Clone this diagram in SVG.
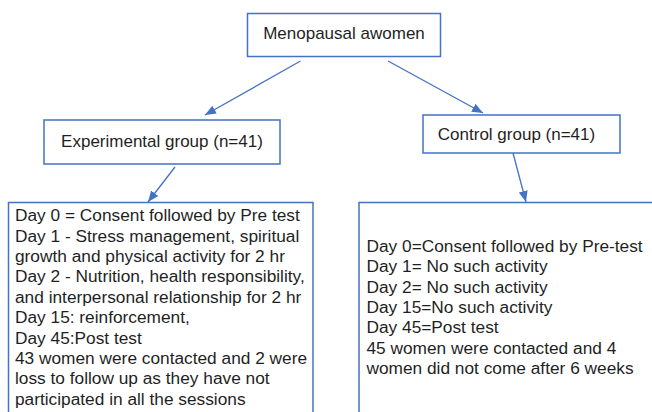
<svg xmlns="http://www.w3.org/2000/svg" width="652" height="412" viewBox="0 0 652 412">
<style>
.box{fill:#fff;stroke:#4472C4;stroke-width:1.5}
.t{font-family:"Liberation Sans",Arial,sans-serif;font-size:17px;fill:#1f1f1f}
.c{text-anchor:middle}
.ln{stroke:#4472C4;stroke-width:1.3;fill:none;marker-end:url(#ah)}
</style>
<defs>
<marker id="ah" markerUnits="userSpaceOnUse" markerWidth="12" markerHeight="12" viewBox="0 0 12 12" refX="11" refY="6" orient="auto">
<path d="M0,1.5 L11,6 L0,10.5 Z" fill="#4472C4"/>
</marker>
</defs>
<g id="connectors">
<line class="ln" x1="300.5" y1="61" x2="205" y2="115"/>
<line class="ln" x1="388" y1="61" x2="483" y2="113"/>
<line class="ln" x1="175" y1="167" x2="148" y2="202"/>
<line class="ln" x1="513" y1="153" x2="526" y2="202"/>
</g>
<g id="top">
<rect class="box" x="247.5" y="13.5" width="193" height="43"/>
<text class="t c" x="344" y="39">Menopausal awomen</text>
</g>
<g id="experimental">
<rect class="box" x="44" y="120" width="236" height="44"/>
<text class="t c" x="162" y="147">Experimental group (n=41)</text>
</g>
<g id="control">
<rect class="box" x="423" y="115" width="197" height="38"/>
<text class="t c" x="516.5" y="140">Control group (n=41)</text>
</g>
<g id="exp-details">
<rect class="box" x="8.5" y="202.5" width="304.5" height="240"/>
<text class="t" x="15" y="221" style="font-size:17.3px">
<tspan x="15" y="221">Day 0 = Consent followed by Pre test</tspan>
<tspan x="15" y="241.5">Day 1 - Stress management, spiritual</tspan>
<tspan x="15" y="262">growth and physical activity for 2 hr</tspan>
<tspan x="15" y="282.4">Day 2 - Nutrition, health responsibility,</tspan>
<tspan x="15" y="302.8">and interpersonal relationship for 2 hr</tspan>
<tspan x="15" y="323.2">Day 15: reinforcement,</tspan>
<tspan x="15" y="343.6">Day 45:Post test</tspan>
<tspan x="15" y="364">43 women were contacted and 2 were</tspan>
<tspan x="15" y="384.4">loss to follow up as they have not</tspan>
<tspan x="15" y="404.8">participated in all the sessions</tspan>
</text>
</g>
<g id="ctrl-details">
<rect class="box" x="359" y="202.5" width="310" height="240"/>
<text class="t" x="366.5" y="251.7" style="font-size:17.3px">
<tspan x="366.5" y="251.7">Day 0=Consent followed by Pre-test</tspan>
<tspan x="366.5" y="272.1">Day 1= No such activity</tspan>
<tspan x="366.5" y="292.5">Day 2= No such activity</tspan>
<tspan x="366.5" y="312.9">Day 15=No such activity</tspan>
<tspan x="366.5" y="333.3">Day 45=Post test</tspan>
<tspan x="366.5" y="353.7">45 women were contacted and 4</tspan>
<tspan x="366.5" y="374.1">women did not come after 6 weeks</tspan>
</text>
</g>
</svg>
